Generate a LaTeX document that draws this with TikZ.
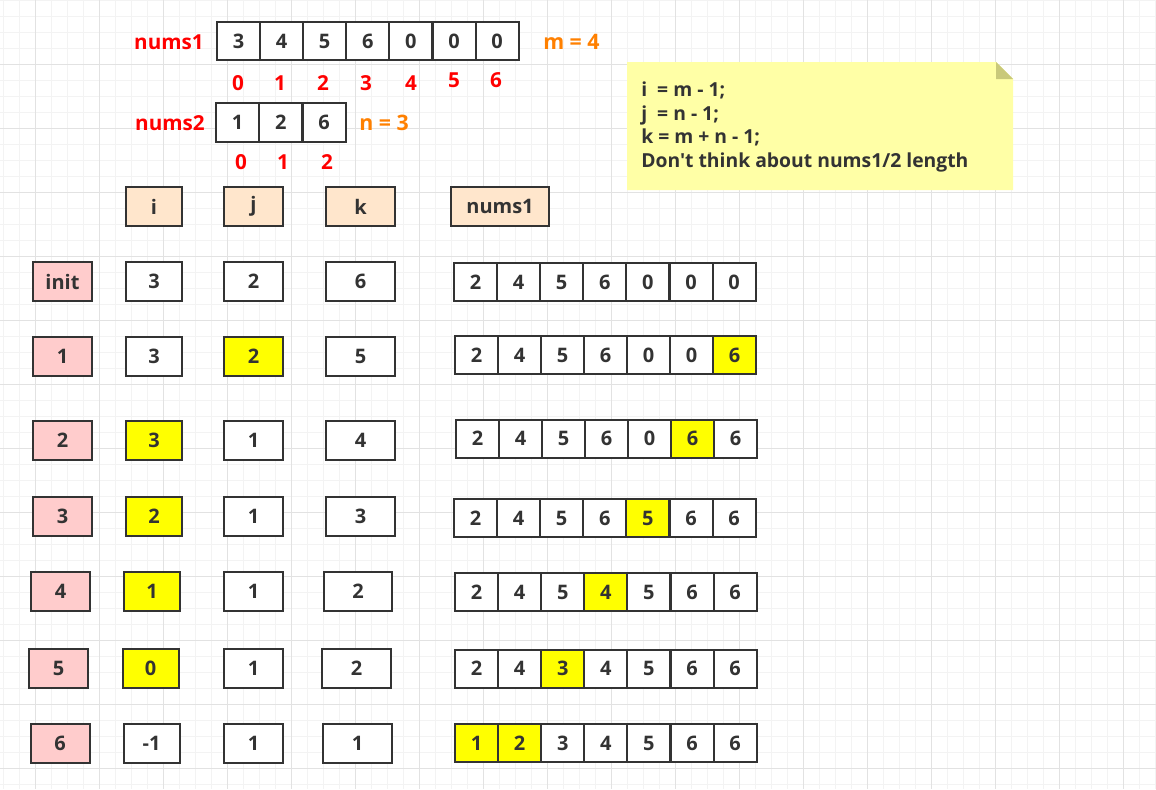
\documentclass[tikz,border=0pt]{standalone}
\usepackage{fontspec}
\setmainfont{Open Sans}[Ligatures=TeXOff]
\definecolor{gridminor}{HTML}{F3F3F3}
\definecolor{gridmajor}{HTML}{E2E2E2}
\definecolor{ink}{HTML}{333333}
\definecolor{steppink}{HTML}{FFCCCC}
\definecolor{headpeach}{HTML}{FFE6CC}
\definecolor{hl}{HTML}{FFFF00}
\definecolor{notefill}{HTML}{FFFFA6}
\definecolor{notefold}{HTML}{C9C97A}
\definecolor{idxred}{HTML}{FF0000}
\definecolor{lenorange}{HTML}{FF8000}

\begin{document}
\begin{tikzpicture}[x=0.75pt,y=-0.75pt,
    box/.style={draw=ink,line width=1.5pt,fill=white,text=ink,inner sep=0pt,
        font=\fontsize{15}{18}\selectfont\bfseries,minimum height=29.25pt},
    stepbox/.style={box,fill=steppink,minimum width=44.25pt},
    headbox/.style={box,fill=headpeach},
    ibox/.style={box,minimum width=42pt},
    jbox/.style={box,minimum width=44.25pt},
    kbox/.style={box,minimum width=51.5pt},
    cell/.style={box,minimum width=32.25pt,minimum height=28.5pt},
    idx/.style={text=idxred,font=\fontsize{15.5}{18}\selectfont\bfseries,inner sep=0pt},
    len/.style={text=lenorange,font=\fontsize{16}{18}\selectfont\bfseries,inner sep=0pt}]
    % background grid
    \useasboundingbox (0,0) rectangle (1156,789);
    \fill[white] (0,0) rectangle (1156,789);
    \foreach \x in {3,19,...,1155} \draw[gridminor,line width=0.75pt] (\x,0) -- (\x,789);
    \foreach \y in {0,16,...,789} \draw[gridminor,line width=0.75pt] (0,\y) -- (1156,\y);
    \foreach \x in {35,99,...,1155} \draw[gridmajor,line width=0.75pt] (\x,0) -- (\x,789);
    \foreach \y in {64,128,...,789} \draw[gridmajor,line width=0.75pt] (0,\y) -- (1156,\y);

    % input arrays
    \node[idx,anchor=east] (n1) at (204,42) {nums1};
    \foreach \v [count=\c from 0] in {3,4,5,6,0,0,0}
        \node[cell,minimum height=28.5pt] (n1-\c) at ({238.5+43.1*\c},41) {\v};
    \node[len,anchor=west] (m) at (543,42) {m = 4};
    \foreach \v/\x/\y in {0/238/83,1/280/83,2/323/83,3/366/83,4/411/83,5/454/80,6/496/80}
        \node[idx] (p1-\v) at (\x,\y) {\v};
    \node[idx,anchor=east] (n2) at (205,123) {nums2};
    \foreach \v [count=\c from 0] in {1,2,6}
        \node[cell,minimum height=29.25pt] (n2-\c) at ({237.5+43.3*\c},122.5) {\v};
    \node[len,anchor=west] (n) at (359,123) {n = 3};
    \foreach \v/\x in {0/241,1/283,2/327}
        \node[idx] (p2-\v) at (\x,162) {\v};

    % note
    \fill[notefill] (627,62) -- (996,62) -- (1013,79) -- (1013,190) -- (627,190) -- cycle;
    \fill[notefold] (996,62) -- (996,79) -- (1013,79) -- cycle;
    \node[anchor=west,align=left,text=ink,inner sep=0pt,
        font=\fontsize{14.5}{17.8}\selectfont\bfseries] (note) at (641,127)
        {i\ \ = m - 1;\\j\ \ = n - 1;\\k = m + n - 1;\\Don't think about nums1/2 length};

    % header
    \node[headbox,minimum width=42pt] (hi) at (154,206.5) {i};
    \node[headbox,minimum width=44.25pt] (hj) at (253.5,206.5) {j};
    \node[headbox,minimum width=51.5pt] (hk) at (360.5,206.5) {k};
    \node[headbox,minimum width=73.5pt] (hn) at (500,206.5) {nums1};

    % init
    \node[stepbox] (s0) at (62.5,281.5) {init};
    \node[ibox] (i0) at (154,281.5) {3};
    \node[jbox] (j0) at (253.5,281.5) {2};
    \node[kbox] (k0) at (360.5,281.5) {6};
    \foreach \v/\f [count=\c from 0] in {2/white,4/white,5/white,6/white,0/white,0/white,0/white}
        \node[cell,fill=\f] (a0-\c) at ({475.5+43.1*\c},282) {\v};

    % step 1
    \node[stepbox] (s1) at (62.5,356) {1};
    \node[ibox] (i1) at (154,356) {3};
    \node[jbox,fill=hl] (j1) at (253.5,356) {2};
    \node[kbox] (k1) at (360.5,356) {5};
    \foreach \v/\f [count=\c from 0] in {2/white,4/white,5/white,6/white,0/white,0/white,6/hl}
        \node[cell,fill=\f] (a1-\c) at ({476.5+43*\c},355) {\v};

    % step 2
    \node[stepbox] (s2) at (62.5,440.5) {2};
    \node[ibox,fill=hl] (i2) at (154,440.5) {3};
    \node[jbox] (j2) at (253.5,440.5) {1};
    \node[kbox] (k2) at (360.5,440.5) {4};
    \foreach \v/\f [count=\c from 0] in {2/white,4/white,5/white,6/white,0/white,6/hl,6/white}
        \node[cell,fill=\f] (a2-\c) at ({477.5+43*\c},438.5) {\v};

    % step 3
    \node[stepbox] (s3) at (62.5,516) {3};
    \node[ibox,fill=hl] (i3) at (154,516) {2};
    \node[jbox] (j3) at (253.5,516) {1};
    \node[kbox] (k3) at (360.5,516) {3};
    \foreach \v/\f [count=\c from 0] in {2/white,4/white,5/white,6/white,5/hl,6/white,6/white}
        \node[cell,fill=\f] (a3-\c) at ({475.5+43.1*\c},518) {\v};

    % step 4
    \node[stepbox] (s4) at (60.5,591.5) {4};
    \node[ibox,fill=hl] (i4) at (152,591.5) {1};
    \node[jbox] (j4) at (253.5,591.5) {1};
    \node[kbox] (k4) at (358,591.5) {2};
    \foreach \v/\f [count=\c from 0] in {2/white,4/white,5/white,4/hl,5/white,6/white,6/white}
        \node[cell,fill=\f] (a4-\c) at ({476.5+43.1*\c},592) {\v};

    % step 5
    \node[stepbox] (s5) at (58.5,668.5) {5};
    \node[ibox,fill=hl] (i5) at (150.5,668.5) {0};
    \node[jbox] (j5) at (253.5,668.5) {1};
    \node[kbox] (k5) at (356.5,668.5) {2};
    \foreach \v/\f [count=\c from 0] in {2/white,4/white,3/hl,4/white,5/white,6/white,6/white}
        \node[cell,fill=\f] (a5-\c) at ({476.5+43.1*\c},668.5) {\v};

    % step 6
    \node[stepbox] (s6) at (60,743.5) {6};
    \node[ibox] (i6) at (151.5,743.5) {-1};
    \node[jbox] (j6) at (253.5,743.5) {1};
    \node[kbox] (k6) at (357.5,743.5) {1};
    \foreach \v/\f [count=\c from 0] in {1/hl,2/hl,3/white,4/white,5/white,6/white,6/white}
        \node[cell,fill=\f] (a6-\c) at ({476.5+43.1*\c},743) {\v};
\end{tikzpicture}
\end{document}
